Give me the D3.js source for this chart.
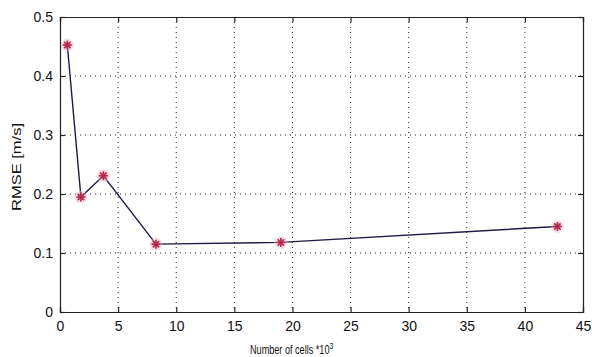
<!DOCTYPE html>
<html><head><meta charset="utf-8">
<script src="https://cdn.jsdelivr.net/npm/d3@7/dist/d3.min.js"></script>
<style>
body{margin:0;background:#fff;}
svg{display:block;}
text{font-family:"Liberation Sans",Arial,sans-serif;fill:#111;}
</style></head>
<body>
<svg id="chart" width="592" height="357"></svg>
<script>
const cellsK = [0.63, 1.8, 3.73, 8.26, 19.0, 42.8];
const rmse = [0.4525, 0.195, 0.231, 0.115, 0.118, 0.145];
const xTicks = [0,5,10,15,20,25,30,35,40,45];
const yTicks = [0,0.1,0.2,0.3,0.4,0.5];
const xLabel = "Number of cells *10";
const xLabelSup = "3";
const yLabel = "RMSE [m/s]";

const svg = d3.select("#chart");
const L = 60, R = 583, T = 17, B = 312;
const x = d3.scaleLinear().domain([0,45]).range([L,R]);
const y = d3.scaleLinear().domain([0,0.5]).range([B,T]);

// grid
const g = svg.append("g");
g.selectAll(".gx").data(xTicks.slice(1,-1)).enter().append("line")
 .attr("x1",d=>x(d)).attr("x2",d=>x(d)).attr("y1",T).attr("y2",B)
 .attr("stroke","#222").attr("stroke-width",1).attr("stroke-dasharray","1,4");
g.selectAll(".gy").data(yTicks.slice(1,-1)).enter().append("line")
 .attr("y1",d=>y(d)).attr("y2",d=>y(d)).attr("x1",L).attr("x2",R)
 .attr("stroke","#222").attr("stroke-width",1).attr("stroke-dasharray","1,4");

// axes
const axB = d3.axisBottom(x).tickValues(xTicks).tickSize(-5).tickPadding(9).tickFormat(d3.format("d"));
const axL = d3.axisLeft(y).tickValues(yTicks).tickSize(-5).tickPadding(7).tickFormat(d=>d===0?"0":d3.format(".1f")(d));
const axT = d3.axisTop(x).tickValues(xTicks).tickSize(-5).tickFormat("");
const axR = d3.axisRight(y).tickValues(yTicks).tickSize(-5).tickFormat("");
function style(sel){
  sel.select(".domain").attr("stroke","#222").attr("stroke-width",1.2);
  sel.selectAll(".tick line").attr("stroke","#222").attr("stroke-width",1.2);
  sel.selectAll("text").style("font-size","14px").attr("fill","#111");
}
svg.append("g").attr("transform",`translate(0,${B})`).call(axB).call(style);
svg.append("g").attr("transform",`translate(${L},0)`).call(axL).call(style);
svg.append("g").attr("transform",`translate(0,${T})`).call(axT).call(style);
svg.append("g").attr("transform",`translate(${R},0)`).call(axR).call(style);

// line
const pts = cellsK.map((c,i)=>[c,rmse[i]]);
svg.append("path").datum(pts)
 .attr("d",d3.line().x(d=>x(d[0])).y(d=>y(d[1])))
 .attr("fill","none").attr("stroke","#1c1c48").attr("stroke-width",1.4);

// markers (asterisk)
const s = 4.5;
const mk = svg.append("g").selectAll("g").data(pts).enter().append("g")
 .attr("transform",d=>`translate(${x(d[0])},${y(d[1])})`);
mk.append("circle").attr("r",6.5).attr("fill","#eab8cc").attr("opacity",0.45);
[[ -s,0,s,0],[0,-s,0,s],[-s*0.7,-s*0.7,s*0.7,s*0.7],[-s*0.7,s*0.7,s*0.7,-s*0.7]].forEach(c=>{
  mk.append("line").attr("x1",c[0]).attr("y1",c[1]).attr("x2",c[2]).attr("y2",c[3])
   .attr("stroke","#b42a4c").attr("stroke-width",1.7);
});

// labels
const xt = svg.append("text").attr("transform","translate(250,354) scale(0.76,1)").style("font-size","12px");
xt.append("tspan").text(xLabel);
xt.append("tspan").attr("dy",-5).style("font-size","9px").text(xLabelSup);
svg.append("text").attr("transform","translate(21,167) rotate(-90)").attr("text-anchor","middle")
 .style("font-size","12px").attr("textLength",88).attr("lengthAdjust","spacingAndGlyphs").text(yLabel);
</script>
</body></html>
